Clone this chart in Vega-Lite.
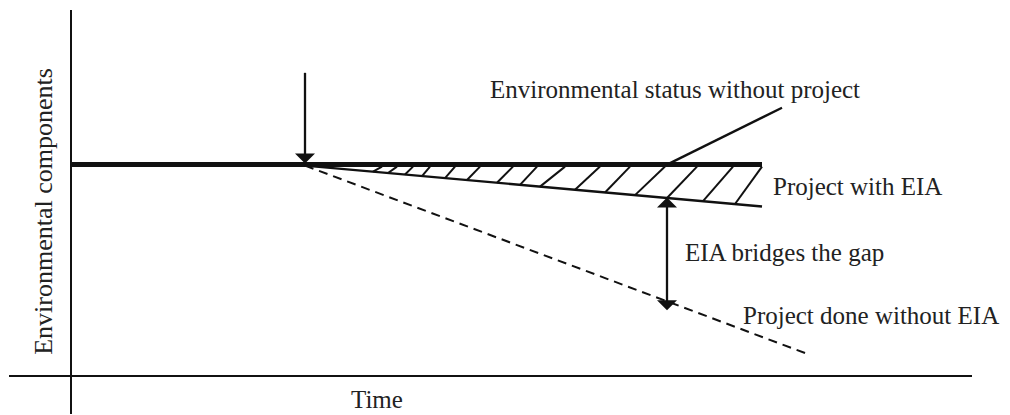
{
  "$schema": "https://vega.github.io/schema/vega-lite/v6.json",
  "width": 1010,
  "height": 415,
  "padding": 0,
  "autosize": {"type": "fit", "contains": "padding"},
  "background": "white",
  "config": {"view": {"stroke": null}},
  "datasets": {
    "axes": [
      {"x": 71, "y": 0, "x2": 71, "y2": 405},
      {"x": 9, "y": 38, "x2": 972, "y2": 38}
    ],
    "status": [
      {"x": 72, "y": 250, "x2": 762, "y2": 250}
    ],
    "thin": [
      {"x": 305, "y": 249, "x2": 762, "y2": 208},
      {"x": 667, "y": 250, "x2": 782, "y2": 307},
      {"x": 305, "y": 342, "x2": 305, "y2": 258},
      {"x": 667, "y": 210, "x2": 667, "y2": 111}
    ],
    "dashed": [
      {"x": 305, "y": 249, "x2": 808, "y2": 60}
    ],
    "hatch": [
      {"x": 373, "y": 243, "x2": 382, "y2": 248},
      {"x": 388, "y": 241.6, "x2": 397, "y2": 248},
      {"x": 405, "y": 240, "x2": 413, "y2": 248},
      {"x": 422, "y": 238.5, "x2": 430, "y2": 248},
      {"x": 445, "y": 236.4, "x2": 455, "y2": 248},
      {"x": 467, "y": 234.5, "x2": 480, "y2": 248},
      {"x": 497, "y": 231.8, "x2": 513, "y2": 248},
      {"x": 520, "y": 229.7, "x2": 537, "y2": 248},
      {"x": 540, "y": 227.9, "x2": 565, "y2": 248},
      {"x": 575, "y": 224.8, "x2": 600, "y2": 248},
      {"x": 605, "y": 222.1, "x2": 630, "y2": 248},
      {"x": 635, "y": 219.4, "x2": 665, "y2": 248},
      {"x": 667, "y": 216.5, "x2": 697, "y2": 248},
      {"x": 703, "y": 213.3, "x2": 733, "y2": 248},
      {"x": 735, "y": 210.5, "x2": 762, "y2": 248}
    ],
    "headsDown": [
      {"x": 305, "y": 251},
      {"x": 667, "y": 104}
    ],
    "headsUp": [
      {"x": 667, "y": 217}
    ],
    "labels": [
      {"x": 490, "y": 317, "label": "Environmental status without project"},
      {"x": 773, "y": 220, "label": "Project with EIA"},
      {"x": 685, "y": 153, "label": "EIA bridges the gap"},
      {"x": 743, "y": 90, "label": "Project done without EIA"},
      {"x": 351, "y": 6, "label": "Time"}
    ],
    "ylabel": [
      {"x": 52, "y": 203, "label": "Environmental components"}
    ]
  },
  "encoding": {
    "x": {"field": "x", "type": "quantitative", "scale": {"domain": [0, 1010], "nice": false, "zero": false}, "axis": null},
    "y": {"field": "y", "type": "quantitative", "scale": {"domain": [0, 415], "nice": false, "zero": false}, "axis": null}
  },
  "layer": [
    {
      "data": {"name": "axes"},
      "mark": {"type": "rule", "color": "#111", "strokeWidth": 2},
      "encoding": {"x2": {"field": "x2"}, "y2": {"field": "y2"}}
    },
    {
      "data": {"name": "status"},
      "mark": {"type": "rule", "color": "#111", "strokeWidth": 5},
      "encoding": {"x2": {"field": "x2"}, "y2": {"field": "y2"}}
    },
    {
      "data": {"name": "thin"},
      "mark": {"type": "rule", "color": "#111", "strokeWidth": 2.3},
      "encoding": {"x2": {"field": "x2"}, "y2": {"field": "y2"}}
    },
    {
      "data": {"name": "dashed"},
      "mark": {"type": "rule", "color": "#111", "strokeWidth": 2, "strokeDash": [9, 6]},
      "encoding": {"x2": {"field": "x2"}, "y2": {"field": "y2"}}
    },
    {
      "data": {"name": "hatch"},
      "mark": {"type": "rule", "color": "#111", "strokeWidth": 2},
      "encoding": {"x2": {"field": "x2"}, "y2": {"field": "y2"}}
    },
    {
      "data": {"name": "headsDown"},
      "mark": {"type": "point", "shape": "M-1,-1L1,-1L0,0Z", "filled": true, "size": 400, "color": "#111", "opacity": 1, "strokeWidth": 0}
    },
    {
      "data": {"name": "headsUp"},
      "mark": {"type": "point", "shape": "M-1,1L1,1L0,0Z", "filled": true, "size": 400, "color": "#111", "opacity": 1, "strokeWidth": 0}
    },
    {
      "data": {"name": "labels"},
      "mark": {"type": "text", "font": "Liberation Serif", "fontSize": 25, "align": "left", "baseline": "alphabetic", "color": "#222"},
      "encoding": {"text": {"field": "label"}}
    },
    {
      "data": {"name": "ylabel"},
      "mark": {"type": "text", "font": "Liberation Serif", "fontSize": 26, "align": "center", "baseline": "alphabetic", "angle": 270, "color": "#222"},
      "encoding": {"text": {"field": "label"}}
    }
  ]
}
